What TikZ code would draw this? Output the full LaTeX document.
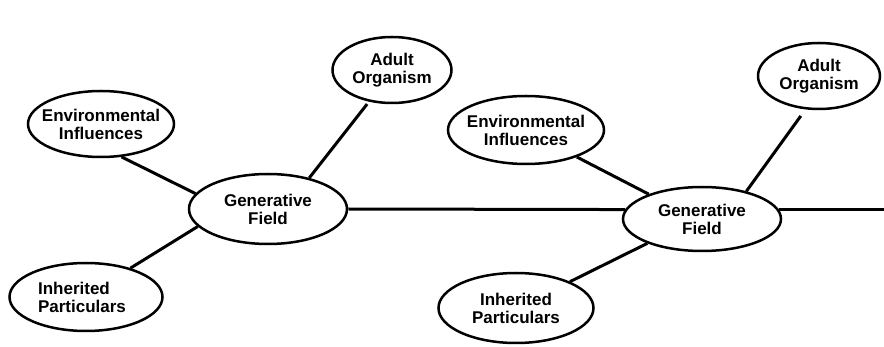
\documentclass[tikz,border=0pt]{standalone}
\usepackage{fontspec}
\setmainfont{Liberation Sans}
\usetikzlibrary{shapes.geometric}
\begin{document}
\begin{tikzpicture}[x=1pt,y=-1pt,
  ell/.style={draw, ellipse, line width=2.5pt, inner sep=0pt},
  lbl/.style={font=\fontsize{17}{18}\selectfont\bfseries, align=center, inner sep=0pt},
  conn/.style={line width=3pt}]
\useasboundingbox[fill=white] (0,0) rectangle (884,347);
% left group
\node[ell, minimum width=146pt, minimum height=66pt, label={[lbl]center:Environmental\\Influences}] (e1) at (101,124) {};
\node[ell, minimum width=119pt, minimum height=66pt, label={[lbl]center:Adult\\Organism}] (a1) at (392,70) {};
\node[ell, minimum width=158pt, minimum height=70pt, label={[lbl]center:Generative\\Field}] (g1) at (268,209) {};
\node[ell, minimum width=153pt, minimum height=68pt, label={[lbl, align=left, xshift=-4pt]center:Inherited\\Particulars}] (i1) at (86,297) {};
% right group
\node[ell, minimum width=156pt, minimum height=68pt, label={[lbl]center:Environmental\\Influences}] (e2) at (526,130) {};
\node[ell, minimum width=122pt, minimum height=66pt, label={[lbl]center:Adult\\Organism}] (a2) at (819,76) {};
\node[ell, minimum width=158pt, minimum height=64pt, label={[lbl]center:Generative\\Field}] (g2) at (702,219) {};
\node[ell, minimum width=155pt, minimum height=70pt, label={[lbl]center:Inherited\\Particulars}] (i2) at (516,308) {};
\coordinate (rend) at (884,0);
% connectors
\draw[conn] (e1.302) -- (g1.168);
\draw[conn] (i1.33) -- (g1.194);
\draw[conn, shorten >=3pt] (g1.37) -- (a1.234);
\draw[conn] (g1.east) -- (g2.173);
\draw[conn] (e2.332) -- (g2.155);
\draw[conn] (i2.26) -- (g2.204);
\draw[conn, shorten >=8pt] (g2.32) -- (a2.248);
\draw[conn] (g2.7) -- (g2.7 -| rend);
\end{tikzpicture}
\end{document}
